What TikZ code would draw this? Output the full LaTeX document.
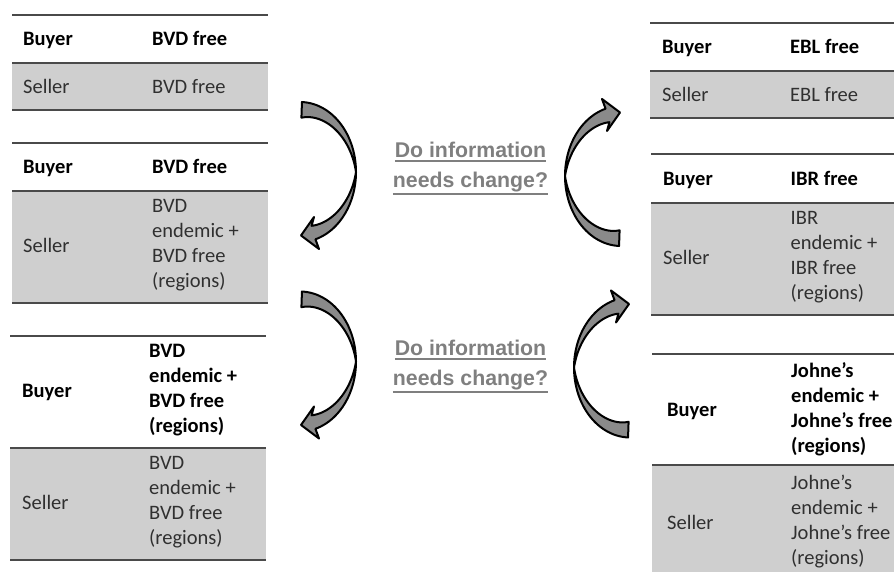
\documentclass[tikz,border=0pt]{standalone}
\usepackage{fontspec}
\setmainfont{Carlito}
\newfontfamily\questfont{Liberation Sans}
\definecolor{rulegrey}{HTML}{4A4A4A}
\definecolor{rowgrey}{HTML}{CFCFCF}
\definecolor{askgrey}{HTML}{7F7F7F}
\definecolor{arrowgrey}{HTML}{8A8A8A}
\definecolor{celltext}{HTML}{303030}
\newcommand{\cellfont}{\fontsize{20.5}{25}\selectfont}
\newcommand{\askfont}{\fontsize{21.3}{30}\selectfont\questfont\bfseries}
% underlined question line, #1 = depth of the bar
\newcommand{\askline}[2]{\setbox0=\hbox{#2}\leavevmode\rlap{\raisebox{-#1}{\rule{\wd0}{2pt}}}\box0}
% bent arrow, #1 = centre, #2 = rotation
\newcommand{\bendarrow}[2]{
    \begin{scope}[shift={#1}, rotate=#2]
        \filldraw[bentarrow] plot[domain=-88:0, samples=30] ({56*cos(\x)}, {70*sin(\x)})
            -- plot[domain=0:-88, samples=30] ({(56-16*abs(\x)/90)*cos(\x)}, {(70-16*abs(\x)/90)*sin(\x)}) -- cycle;
        \filldraw[bentarrow] plot[domain=0:74, samples=30] ({56*cos(\x)}, {70*sin(\x)})
            -- (19,77) -- (1,63.5) -- (14,45)
            -- plot[domain=74:0, samples=30] ({(56-14*\x/74)*cos(\x)}, {(70-14*\x/74)*sin(\x)}) -- cycle;
    \end{scope}
}

\begin{document}
\begin{tikzpicture}[x=1pt, y=-1pt,
    rule/.style={draw=rulegrey, line width=1.8pt},
    sellerrow/.style={fill=rowgrey},
    cell/.style={anchor=west, inner sep=0pt, align=left, font=\cellfont, text=celltext,
        execute at begin node=\strut, execute at end node=\strut},
    headcell/.style={cell, font=\cellfont\bfseries, text=black},
    ask/.style={inner sep=0pt, align=center, font=\askfont, text=askgrey},
    bentarrow/.style={draw=black, fill=arrowgrey, line width=2pt, line join=round}]
    \useasboundingbox (0,0) rectangle (894,572);

    % left tables (BVD)
    \fill[sellerrow] (12,63) rectangle (268,110);
    \fill[sellerrow] (12,191) rectangle (268,303);
    \fill[sellerrow] (10,448) rectangle (265.5,560);
    \draw[rule] (12,15) -- (268,15);
    \draw[rule] (12,63) -- (268,63);
    \draw[rule] (12,110) -- (268,110);
    \draw[rule] (12,143) -- (268,143);
    \draw[rule] (12,191) -- (268,191);
    \draw[rule] (12,303) -- (268,303);
    \draw[rule] (10,336) -- (265.5,336);
    \draw[rule] (10,448) -- (265.5,448);
    \draw[rule] (10,560) -- (265.5,560);

    \node[headcell] (bvdonebuyer) at (23,41) {Buyer};
    \node[headcell] (bvdonebuyerval) at (152,41) {BVD free};
    \node[cell] (bvdoneseller) at (23,88.5) {Seller};
    \node[cell] (bvdonesellerval) at (152,88.5) {BVD free};

    \node[headcell] (bvdtwobuyer) at (23,169) {Buyer};
    \node[headcell] (bvdtwobuyerval) at (152,169) {BVD free};
    \node[cell] (bvdtwoseller) at (23,247.5) {Seller};
    \node[cell] (bvdtwosellerval) at (152,247.5) {BVD\\endemic +\\BVD free\\(regions)};

    \node[headcell] (bvdthreebuyer) at (22,392) {Buyer};
    \node[headcell] (bvdthreebuyerval) at (149,392) {BVD\\endemic +\\BVD free\\(regions)};
    \node[cell] (bvdthreeseller) at (22,504) {Seller};
    \node[cell] (bvdthreesellerval) at (149,504) {BVD\\endemic +\\BVD free\\(regions)};

    % right tables (EBL, IBR, Johne's)
    \fill[sellerrow] (650,71) rectangle (894,118);
    \fill[sellerrow] (651,203) rectangle (894,315);
    \fill[sellerrow] (652,465) rectangle (894,580);
    \draw[rule] (650,23) -- (894,23);
    \draw[rule] (650,71) -- (894,71);
    \draw[rule] (650,118) -- (894,118);
    \draw[rule] (651,154) -- (894,154);
    \draw[rule] (651,203) -- (894,203);
    \draw[rule] (651,315) -- (894,315);
    \draw[rule] (652,354) -- (894,354);
    \draw[rule] (652,465) -- (894,465);

    \node[headcell] (eblbuyer) at (662,49) {Buyer};
    \node[headcell] (eblbuyerval) at (790,49) {EBL free};
    \node[cell] (eblseller) at (662,96.5) {Seller};
    \node[cell] (eblsellerval) at (790,96.5) {EBL free};

    \node[headcell] (ibrbuyer) at (663,180.5) {Buyer};
    \node[headcell] (ibrbuyerval) at (790.5,180.5) {IBR free};
    \node[cell] (ibrseller) at (663,259) {Seller};
    \node[cell] (ibrsellerval) at (790.5,259) {IBR\\endemic +\\IBR free\\(regions)};

    \node[headcell] (johnesbuyer) at (667,411) {Buyer};
    \node[headcell] (johnesbuyerval) at (791,411) {Johne’s\\endemic +\\Johne’s free\\(regions)};
    \node[cell] (johnesseller) at (667,524) {Seller};
    \node[cell] (johnessellerval) at (791,524) {Johne’s\\endemic +\\Johne’s free\\(regions)};

    % questions
    \node[ask] (askone) at (470.5,168.6) {\askline{4.6pt}{Do information}\\\askline{8.3pt}{needs change?}};
    \node[ask] (asktwo) at (470.5,366.6) {\askline{4.6pt}{Do information}\\\askline{8.3pt}{needs change?}};

    % bent arrows
    \bendarrow{(300,172)}{0}
    \bendarrow{(300,361.5)}{0}
    \bendarrow{(621,176)}{180}
    \bendarrow{(630,367.5)}{180}
\end{tikzpicture}
\end{document}
